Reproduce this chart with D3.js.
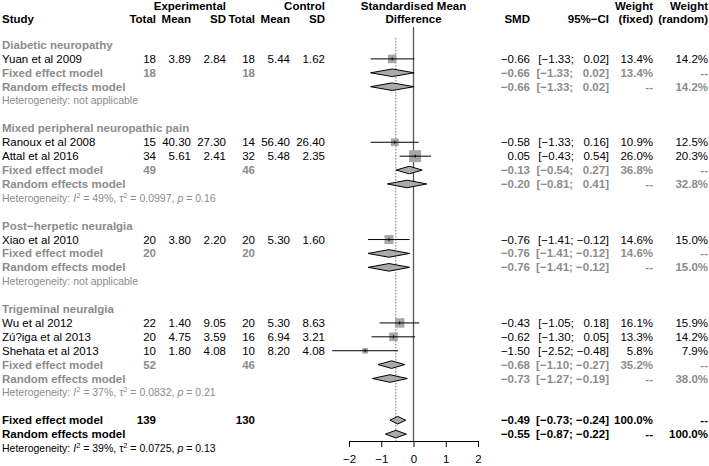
<!DOCTYPE html>
<html>
<head>
<meta charset="utf-8">
<script src="https://cdn.jsdelivr.net/npm/d3@7"></script>
<style>
  body { margin: 0; background: #fff; }
  svg { font-family: "Liberation Sans", Arial, sans-serif; font-size: 11.5px; }
  text { white-space: pre; }
</style>
</head>
<body>
<svg id="chart" width="709" height="466"></svg>
<script>
// subgroups
var groups = ["Diabetic neuropathy", "Mixed peripheral neuropathic pain", "Post\u2212herpetic neuralgia", "Trigeminal neuralgia"];

// studies
var studyNames = ["Yuan et al 2009", "Ranoux et al 2008", "Attal et al 2016", "Xiao et al 2010", "Wu et al 2012", "Z\u00fa?iga et al 2013", "Shehata et al 2013"];
var studyGroup = [0, 1, 1, 2, 3, 3, 3];
var expTotal = [18, 15, 34, 20, 22, 20, 10];
var expMean = [3.89, 40.30, 5.61, 3.80, 1.40, 4.75, 1.80];
var expSD = [2.84, 27.30, 2.41, 2.20, 9.05, 3.59, 4.08];
var ctlTotal = [18, 14, 32, 20, 20, 16, 10];
var ctlMean = [5.44, 56.40, 5.48, 5.30, 5.30, 6.94, 8.20];
var ctlSD = [1.62, 26.40, 2.35, 1.60, 8.63, 3.21, 4.08];
var smd = [-0.66, -0.58, 0.05, -0.76, -0.43, -0.62, -1.50];
var ciLow = [-1.33, -1.33, -0.43, -1.41, -1.05, -1.30, -2.52];
var ciHigh = [0.02, 0.16, 0.54, -0.12, 0.18, 0.05, -0.48];
var wFixed = [13.4, 10.9, 26.0, 14.6, 16.1, 13.3, 5.8];
var wRandom = [14.2, 12.5, 20.3, 15.0, 15.9, 14.2, 7.9];

// subgroup summaries
var groupExpN = [18, 49, 20, 52];
var groupCtlN = [18, 46, 20, 46];
var fixedSmd = [-0.66, -0.13, -0.76, -0.68];
var fixedLow = [-1.33, -0.54, -1.41, -1.10];
var fixedHigh = [0.02, 0.27, -0.12, -0.27];
var fixedW = [13.4, 36.8, 14.6, 35.2];
var randomSmd = [-0.66, -0.20, -0.76, -0.73];
var randomLow = [-1.33, -0.81, -1.41, -1.27];
var randomHigh = [0.02, 0.41, -0.12, -0.19];
var randomW = [14.2, 32.8, 15.0, 38.0];
var hetI2 = [null, "49%", null, "37%"];
var hetTau2 = [null, "0.0997", null, "0.0832"];
var hetP = [null, "0.16", null, "0.21"];

// overall
var overallN = [139, 130];
var overallFixed = [-0.49, -0.73, -0.24];
var overallRandom = [-0.55, -0.87, -0.22];
var overallHet = ["39%", "0.0725", "0.13"];

var xTicks = [-2, -1, 0, 1, 2];

var GREY = "#8c8c8c";

var svg = d3.select("#chart");

var yRow = d3.scaleLinear().domain([0, 29]).range([45, 448]);
var x = d3.scaleLinear().domain([-2, 2]).range([349, 478]);
var boxSize = d3.scaleSqrt().domain([0, 26]).range([0, 12]);

// column right edges
var col = { study: 2, eT: 156, eM: 191, eS: 226, cT: 255, cM: 290, cS: 325,
            smd: 530, ci: 609, wf: 653, wr: 708 };

function num(v) { return v.toFixed(2).replace("-", "\u2212"); }
function ci(lo, hi) {
  var h = num(hi);
  if (hi >= 0) h = "  " + h;
  return "[" + num(lo) + "; " + h + "]";
}
function pct(v) { return v == null ? "--" : v.toFixed(1) + "%"; }

function txt(xp, yp, s, anchor, bold, fill) {
  return svg.append("text")
    .attr("x", xp).attr("y", yp).attr("dy", "0.35em")
    .attr("text-anchor", anchor || "end")
    .attr("font-weight", bold ? "bold" : "normal")
    .attr("fill", fill || "#000")
    .text(s);
}

function het(yp, i2, tau2, p, fill) {
  var t = svg.append("text").attr("x", col.study).attr("y", yp).attr("dy", "0.35em")
    .attr("font-size", "10.5px").attr("fill", fill);
  if (i2 == null) { t.text("Heterogeneity: not applicable"); return; }
  t.append("tspan").text("Heterogeneity: ");
  t.append("tspan").attr("font-style", "italic").text("I");
  t.append("tspan").attr("font-size", "7.5px").attr("dy", -4).text("2");
  t.append("tspan").attr("dy", 4).text(" = " + i2 + ", \u03c4");
  t.append("tspan").attr("font-size", "7.5px").attr("dy", -4).text("2");
  t.append("tspan").attr("dy", 4).text(" = " + tau2 + ", ");
  t.append("tspan").attr("font-style", "italic").text("p");
  t.append("tspan").text(" = " + p);
}

function diamond(yp, est, lo, hi) {
  var h = 3.8;
  svg.append("path")
    .attr("d", "M" + x(lo) + "," + yp + "L" + x(est) + "," + (yp - h) +
               "L" + x(hi) + "," + yp + "L" + x(est) + "," + (yp + h) + "Z")
    .attr("fill", "#aaaaaa").attr("stroke", "#000").attr("stroke-width", 1);
}

// headers
var h1 = 6, h2 = 19;
txt(col.eS, h1, "Experimental", "end", true);
txt(col.cS, h1, "Control", "end", true);
txt(col.study, h2, "Study", "start", true);
[["eT", "Total"], ["eM", "Mean"], ["eS", "SD"], ["cT", "Total"], ["cM", "Mean"], ["cS", "SD"]]
  .forEach(function(c) { txt(col[c[0]], h2, c[1], "end", true); });
txt(x(0), h1, "Standardised Mean", "middle", true);
txt(x(0), h2, "Difference", "middle", true);
txt(col.smd, h2, "SMD", "end", true);
txt(col.ci, h2, "95%\u2212CI", "end", true);
txt(col.wf, h1, "Weight", "end", true);
txt(col.wf, h2, "(fixed)", "end", true);
txt(col.wr, h1, "Weight", "end", true);
txt(col.wr, h2, "(random)", "end", true);

// reference lines
svg.append("line").attr("x1", x(0)).attr("x2", x(0)).attr("y1", 27).attr("y2", 441)
  .attr("stroke", "#555").attr("stroke-width", 1.3);
svg.append("line").attr("x1", x(overallRandom[0])).attr("x2", x(overallRandom[0]))
  .attr("y1", 38).attr("y2", 441)
  .attr("stroke", "#999").attr("stroke-width", 1.3).attr("stroke-dasharray", "1.5,1.5");

// body rows
var r = 0;
groups.forEach(function(g, gi) {
  txt(col.study, yRow(r), g, "start", true, GREY);
  r++;
  studyNames.forEach(function(name, i) {
    if (studyGroup[i] !== gi) return;
    var yp = yRow(r);
    txt(col.study, yp, name, "start");
    txt(col.eT, yp, String(expTotal[i]));
    txt(col.eM, yp, expMean[i].toFixed(2));
    txt(col.eS, yp, expSD[i].toFixed(2));
    txt(col.cT, yp, String(ctlTotal[i]));
    txt(col.cM, yp, ctlMean[i].toFixed(2));
    txt(col.cS, yp, ctlSD[i].toFixed(2));
    txt(col.smd, yp, num(smd[i]));
    txt(col.ci, yp, ci(ciLow[i], ciHigh[i]));
    txt(col.wf, yp, pct(wFixed[i]));
    txt(col.wr, yp, pct(wRandom[i]));
    var s = boxSize(wFixed[i]);
    svg.append("rect").attr("x", x(smd[i]) - s / 2).attr("y", yp - s / 2)
      .attr("width", s).attr("height", s).attr("fill", "#a6a6a6");
    svg.append("line").attr("x1", x(ciLow[i])).attr("x2", x(ciHigh[i]))
      .attr("y1", yp).attr("y2", yp).attr("stroke", "#000").attr("stroke-width", 1);
    svg.append("line").attr("x1", x(smd[i])).attr("x2", x(smd[i]))
      .attr("y1", yp - 1.5).attr("y2", yp + 1.5).attr("stroke", "#000").attr("stroke-width", 1);
    r++;
  });
  var yf = yRow(r);
  txt(col.study, yf, "Fixed effect model", "start", true, GREY);
  txt(col.eT, yf, String(groupExpN[gi]), "end", true, GREY);
  txt(col.cT, yf, String(groupCtlN[gi]), "end", true, GREY);
  txt(col.smd, yf, num(fixedSmd[gi]), "end", true, GREY);
  txt(col.ci, yf, ci(fixedLow[gi], fixedHigh[gi]), "end", true, GREY);
  txt(col.wf, yf, pct(fixedW[gi]), "end", true, GREY);
  txt(col.wr, yf, "--", "end", true, GREY);
  diamond(yf, fixedSmd[gi], fixedLow[gi], fixedHigh[gi]);
  r++;
  var yr = yRow(r);
  txt(col.study, yr, "Random effects model", "start", true, GREY);
  txt(col.smd, yr, num(randomSmd[gi]), "end", true, GREY);
  txt(col.ci, yr, ci(randomLow[gi], randomHigh[gi]), "end", true, GREY);
  txt(col.wf, yr, "--", "end", true, GREY);
  txt(col.wr, yr, pct(randomW[gi]), "end", true, GREY);
  diamond(yr, randomSmd[gi], randomLow[gi], randomHigh[gi]);
  r++;
  het(yRow(r), hetI2[gi], hetTau2[gi], hetP[gi], GREY);
  r += 2;
});

// overall
var yo = yRow(r);
txt(col.study, yo, "Fixed effect model", "start", true);
txt(col.eT, yo, String(overallN[0]), "end", true);
txt(col.cT, yo, String(overallN[1]), "end", true);
txt(col.smd, yo, num(overallFixed[0]), "end", true);
txt(col.ci, yo, ci(overallFixed[1], overallFixed[2]), "end", true);
txt(col.wf, yo, pct(100), "end", true);
txt(col.wr, yo, "--", "end", true);
diamond(yo, overallFixed[0], overallFixed[1], overallFixed[2]);
r++;
yo = yRow(r);
txt(col.study, yo, "Random effects model", "start", true);
txt(col.smd, yo, num(overallRandom[0]), "end", true);
txt(col.ci, yo, ci(overallRandom[1], overallRandom[2]), "end", true);
txt(col.wf, yo, "--", "end", true);
txt(col.wr, yo, pct(100), "end", true);
diamond(yo, overallRandom[0], overallRandom[1], overallRandom[2]);
r++;
het(yRow(r), overallHet[0], overallHet[1], overallHet[2], "#000");

// axis
var axis = svg.append("g").attr("transform", "translate(0,441)")
  .call(d3.axisBottom(x).tickValues(xTicks).tickFormat(d3.format("d"))
    .tickSize(6).tickSizeOuter(0).tickPadding(8));
axis.select(".domain").attr("stroke", "#000");
axis.selectAll("text").attr("font-size", "11.5px").attr("font-family", "Liberation Sans, Arial, sans-serif");
</script>
</body>
</html>
